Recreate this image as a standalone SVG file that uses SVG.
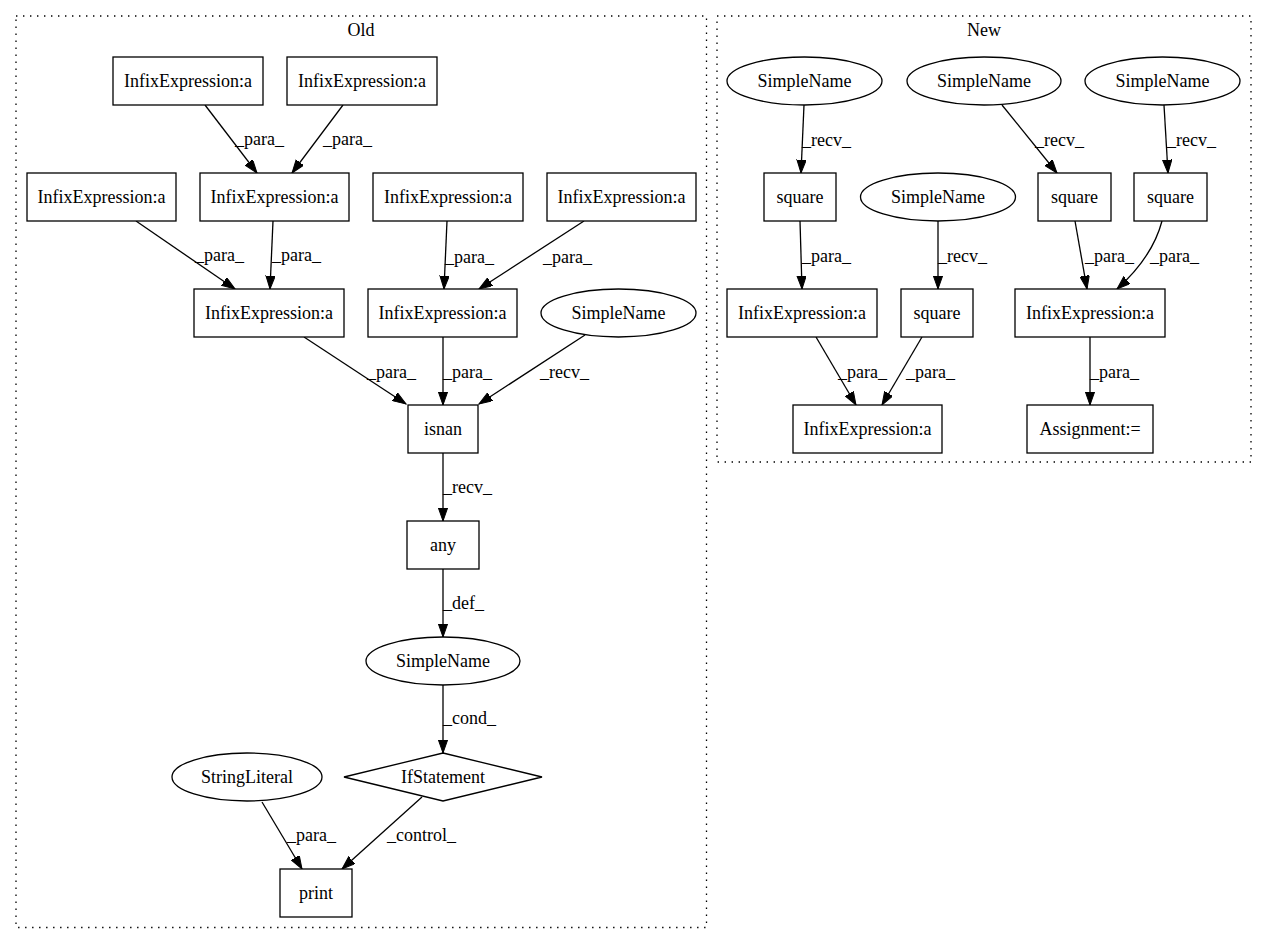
<svg xmlns="http://www.w3.org/2000/svg" width="1267" height="944" viewBox="0 0 1267 944">
<style>
text{font-family:"Liberation Serif","Times New Roman",serif;font-size:18px;fill:#000}
.n{text-anchor:middle}
.s{fill:#fff;stroke:#000;stroke-width:1.3}
.e{fill:none;stroke:#000;stroke-width:1.3;marker-end:url(#ah)}
.c{fill:none;stroke:#000;stroke-width:1.3;stroke-dasharray:1.4,5.6}
</style>
<defs>
<marker id="ah" markerUnits="userSpaceOnUse" markerWidth="14" markerHeight="10" refX="13.3" refY="4.7" orient="auto">
<path d="M0,0 L13.3,4.7 L0,9.4 z" fill="#000" stroke="#000" stroke-width="1"/>
</marker>
</defs>
<rect width="1267" height="944" fill="#fff"/>
<g id="clusters">
<rect class="c" x="16" y="16" width="690.5" height="911.5"/>
<text class="n" x="361" y="36">Old</text>
<rect class="c" x="717" y="16" width="534" height="446"/>
<text class="n" x="984" y="36">New</text>
</g>
<g id="connectors">
<path class="e" d="M205,105 L257,173"/>
<text x="235" y="145">_para_</text>
<path class="e" d="M343,105 L292,173"/>
<text x="323" y="145">_para_</text>
<path class="e" d="M136,221 L235,289"/>
<text x="195" y="261">_para_</text>
<path class="e" d="M273,221 L270,289"/>
<text x="272" y="261">_para_</text>
<path class="e" d="M447,221 L444,289"/>
<text x="445" y="263">_para_</text>
<path class="e" d="M584,221 L479,289"/>
<text x="543" y="263">_para_</text>
<path class="e" d="M304,337 L406,404"/>
<text x="367" y="378">_para_</text>
<path class="e" d="M443,337 L443,405"/>
<text x="443" y="378">_para_</text>
<path class="e" d="M585,335 L479,404"/>
<text x="540" y="378">_recv_</text>
<path class="e" d="M443,453 L443,521"/>
<text x="443" y="493">_recv_</text>
<path class="e" d="M443,569 L443,637"/>
<text x="443" y="609">_def_</text>
<path class="e" d="M443,685 L443,753"/>
<text x="443" y="724">_cond_</text>
<path class="e" d="M262,802 L302,869"/>
<text x="287" y="841">_para_</text>
<path class="e" d="M422,797 L342,869"/>
<text x="387" y="841">_control_</text>
<path class="e" d="M804,105 L801,173"/>
<text x="802" y="146">_recv_</text>
<path class="e" d="M1002,105 L1057,173"/>
<text x="1035" y="146">_recv_</text>
<path class="e" d="M1164,105 L1168,173"/>
<text x="1167" y="146">_recv_</text>
<path class="e" d="M800,221 L802,289"/>
<text x="802" y="262">_para_</text>
<path class="e" d="M938,221 L938,289"/>
<text x="938" y="262">_recv_</text>
<path class="e" d="M1075,221 L1087,289"/>
<text x="1085" y="262">_para_</text>
<path class="e" d="M1162,221 C1157,240 1146,263 1117,289"/>
<text x="1150" y="262">_para_</text>
<path class="e" d="M816,337 L856,405"/>
<text x="838" y="378">_para_</text>
<path class="e" d="M922,337 L882,405"/>
<text x="906" y="378">_para_</text>
<path class="e" d="M1090,337 L1090,405"/>
<text x="1090" y="378">_para_</text>
</g>
<g id="old_infix_1"><rect class="s" x="113" y="57" width="150" height="48"/><text class="n" x="188" y="87">InfixExpression:a</text></g>
<g id="old_infix_2"><rect class="s" x="287" y="57" width="150" height="48"/><text class="n" x="362" y="87">InfixExpression:a</text></g>
<g id="old_infix_3"><rect class="s" x="27" y="173" width="149" height="48"/><text class="n" x="101.5" y="203">InfixExpression:a</text></g>
<g id="old_infix_4"><rect class="s" x="200" y="173" width="149" height="48"/><text class="n" x="274.5" y="203">InfixExpression:a</text></g>
<g id="old_infix_5"><rect class="s" x="373" y="173" width="150" height="48"/><text class="n" x="448" y="203">InfixExpression:a</text></g>
<g id="old_infix_6"><rect class="s" x="547" y="173" width="149" height="48"/><text class="n" x="621.5" y="203">InfixExpression:a</text></g>
<g id="old_infix_7"><rect class="s" x="194" y="289" width="150" height="48"/><text class="n" x="269" y="319">InfixExpression:a</text></g>
<g id="old_infix_8"><rect class="s" x="368" y="289" width="149" height="48"/><text class="n" x="442.5" y="319">InfixExpression:a</text></g>
<g id="old_simplename_1"><ellipse class="s" cx="618.5" cy="313" rx="77.5" ry="24"/><text class="n" x="618.5" y="319">SimpleName</text></g>
<g id="old_isnan"><rect class="s" x="408" y="405" width="70" height="48"/><text class="n" x="443" y="435">isnan</text></g>
<g id="old_any"><rect class="s" x="407" y="521" width="72" height="48"/><text class="n" x="443" y="551">any</text></g>
<g id="old_simplename_2"><ellipse class="s" cx="443" cy="661" rx="77" ry="24"/><text class="n" x="443" y="667">SimpleName</text></g>
<g id="old_ifstatement"><polygon class="s" points="443,753 542,777 443,801 344,777"/><text class="n" x="443" y="783">IfStatement</text></g>
<g id="old_stringliteral"><ellipse class="s" cx="247" cy="777" rx="75" ry="24"/><text class="n" x="247" y="783">StringLiteral</text></g>
<g id="old_print"><rect class="s" x="280" y="869" width="72" height="48"/><text class="n" x="316" y="899">print</text></g>
<g id="new_simplename_1"><ellipse class="s" cx="804.5" cy="81" rx="77.5" ry="24"/><text class="n" x="804.5" y="87">SimpleName</text></g>
<g id="new_simplename_2"><ellipse class="s" cx="984" cy="81" rx="77" ry="24"/><text class="n" x="984" y="87">SimpleName</text></g>
<g id="new_simplename_3"><ellipse class="s" cx="1162.5" cy="81" rx="77.5" ry="24"/><text class="n" x="1162.5" y="87">SimpleName</text></g>
<g id="new_square_1"><rect class="s" x="764" y="173" width="72" height="48"/><text class="n" x="800" y="203">square</text></g>
<g id="new_simplename_4"><ellipse class="s" cx="938" cy="197" rx="77.5" ry="24"/><text class="n" x="938" y="203">SimpleName</text></g>
<g id="new_square_2"><rect class="s" x="1038" y="173" width="73" height="48"/><text class="n" x="1074.5" y="203">square</text></g>
<g id="new_square_3"><rect class="s" x="1134" y="173" width="73" height="48"/><text class="n" x="1170.5" y="203">square</text></g>
<g id="new_infix_1"><rect class="s" x="727" y="289" width="150" height="48"/><text class="n" x="802" y="319">InfixExpression:a</text></g>
<g id="new_square_4"><rect class="s" x="901" y="289" width="72" height="48"/><text class="n" x="937" y="319">square</text></g>
<g id="new_infix_2"><rect class="s" x="1015" y="289" width="150" height="48"/><text class="n" x="1090" y="319">InfixExpression:a</text></g>
<g id="new_infix_3"><rect class="s" x="793" y="405" width="149" height="48"/><text class="n" x="867.5" y="435">InfixExpression:a</text></g>
<g id="new_assignment"><rect class="s" x="1027" y="405" width="126" height="48"/><text class="n" x="1090" y="435">Assignment:=</text></g>
</svg>
